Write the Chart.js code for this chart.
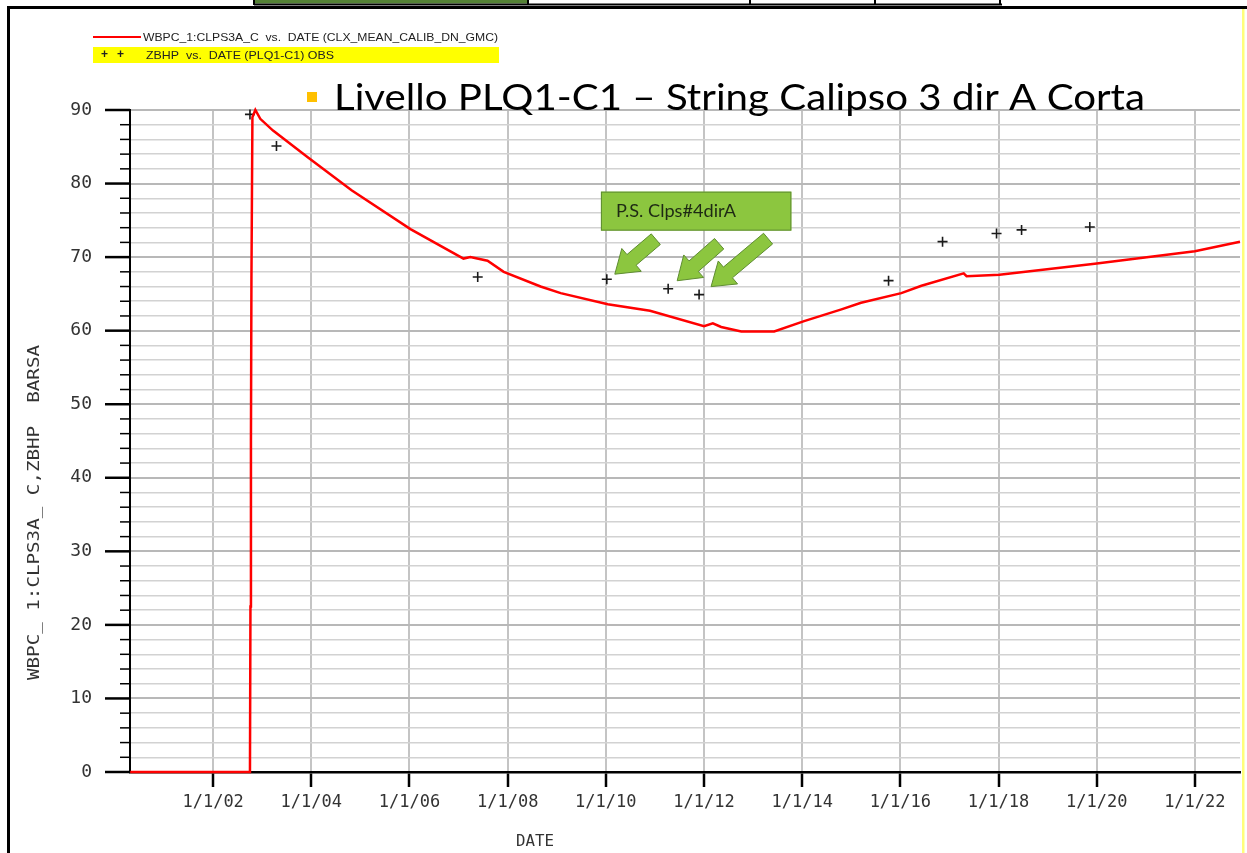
<!DOCTYPE html>
<html>
<head>
<meta charset="utf-8">
<title>Livello PLQ1-C1 – String Calipso 3 dir A Corta</title>
<script src="https://cdn.jsdelivr.net/npm/chart.js@4.4.1/dist/chart.umd.min.js"></script>
<style>
  html, body { margin: 0; padding: 0; background: #fff; }
  #wrap { width: 1247px; height: 853px; position: relative; }
</style>
</head>
<body>
<div id="wrap"><canvas id="chart" width="1247" height="853"></canvas></div>
<script>
// --- data (dates as decimal years) ---
const simYears = [2000.31, 2002.75, 2002.76, 2002.77, 2002.78, 2002.80, 2002.86, 2002.96, 2003.22,
  2003.92, 2004.82, 2006.02, 2007.10, 2007.24, 2007.59, 2007.92, 2008.67, 2009.08, 2010.04,
  2010.90, 2012.00, 2012.18, 2012.35, 2012.76, 2013.43, 2014.04, 2014.80, 2015.20, 2016.02,
  2016.43, 2017.29, 2017.35, 2018.02, 2019.96, 2022.00, 2022.92];
const simValues = [0, 0, 22.5, 45, 67, 89, 90.0, 88.8, 87.2,
  83.6, 79.1, 73.8, 69.8, 70.0, 69.5, 68.0, 66.0, 65.1, 63.6,
  62.7, 60.6, 61.0, 60.5, 59.9, 59.9, 61.3, 62.9, 63.8, 65.1,
  66.1, 67.8, 67.4, 67.6, 69.1, 70.8, 72.1];

const obsYears  = [2002.75, 2003.29, 2007.39, 2010.02, 2011.27, 2011.90, 2015.76, 2016.86, 2017.96, 2018.47, 2019.86];
const obsValues = [89.4, 85.1, 67.3, 67.0, 65.7, 64.9, 66.8, 72.1, 73.2, 73.7, 74.1];

const xTickYears = [2002, 2004, 2006, 2008, 2010, 2012, 2014, 2016, 2018, 2020, 2022];
const yMajorTicks = [0, 10, 20, 30, 40, 50, 60, 70, 80, 90];

const legendLabels = ['WBPC_1:CLPS3A_C  vs.  DATE (CLX_MEAN_CALIB_DN_GMC)', 'ZBHP  vs.  DATE (PLQ1-C1) OBS'];
const chartTitle = 'Livello PLQ1-C1 – String Calipso 3 dir A Corta';
const noteText = 'P.S. Clps#4dirA';
const yTitle = 'WBPC_ 1:CLPS3A_ C,ZBHP  BARSA';
const xTitle = 'DATE';

// arrows of the note point at these observations (index into obs arrays)
const noteArrows = [
  { idx: 3, tip: [8, -5],  tail: [49, -40] },
  { idx: 4, tip: [9, -8],  tail: [51, -45] },
  { idx: 5, tip: [12, -8], tail: [69, -56] }
];

const MONO = '"DejaVu Sans Mono", monospace';

function fitText(ctx, text, x, y, width) {
  const w = ctx.measureText(text).width;
  ctx.save();
  ctx.translate(x, y);
  ctx.scale(width / w, 1);
  ctx.fillText(text, 0, 0);
  ctx.restore();
}

function blockArrow(ctx, tail, tip, shaft, head, headLen) {
  const dx = tip[0] - tail[0], dy = tip[1] - tail[1];
  const len = Math.hypot(dx, dy);
  const ux = dx / len, uy = dy / len, nx = -uy, ny = ux;
  const bx = tip[0] - ux * headLen, by = tip[1] - uy * headLen;
  ctx.beginPath();
  ctx.moveTo(tail[0] + nx * shaft / 2, tail[1] + ny * shaft / 2);
  ctx.lineTo(bx + nx * shaft / 2, by + ny * shaft / 2);
  ctx.lineTo(bx + nx * head / 2, by + ny * head / 2);
  ctx.lineTo(tip[0], tip[1]);
  ctx.lineTo(bx - nx * head / 2, by - ny * head / 2);
  ctx.lineTo(bx - nx * shaft / 2, by - ny * shaft / 2);
  ctx.lineTo(tail[0] - nx * shaft / 2, tail[1] - ny * shaft / 2);
  ctx.closePath();
  ctx.fill();
  ctx.stroke();
}

// page frame, legend, title, note and the y tick marks
const decorPlugin = {
  id: 'decor',
  afterDraw(chart) {
    const ctx = chart.ctx;
    const xs = chart.scales.x, ys = chart.scales.y;
    const area = chart.chartArea;
    ctx.save();

    // y tick marks: long at 10s, short at 2s
    ctx.strokeStyle = '#000';
    ys.ticks.forEach(t => {
      const py = ys.getPixelForValue(t.value);
      const major = yMajorTicks.includes(t.value);
      ctx.lineWidth = major ? 2.5 : 1.5;
      ctx.beginPath();
      ctx.moveTo(area.left - (major ? 25 : 10), py);
      ctx.lineTo(area.left, py);
      ctx.stroke();
    });

    // frame around the slide picture
    ctx.fillStyle = '#000';
    ctx.fillRect(7, 6, 1240, 3);
    ctx.fillRect(7, 6, 3, 847);
    ctx.fillStyle = '#ffff7a';
    ctx.fillRect(1242, 9, 2.5, 844);
    // bit of a table above it
    ctx.fillStyle = '#548235';
    ctx.fillRect(254, 0, 274, 3.5);
    ctx.fillStyle = '#000';
    ctx.fillRect(254, 3.5, 748, 2);
    [254, 528, 750, 875, 1000].forEach(x => ctx.fillRect(x - 1, 0, 2, 5));

    // legend
    ctx.strokeStyle = '#ff0000';
    ctx.lineWidth = 2;
    ctx.beginPath(); ctx.moveTo(93, 37); ctx.lineTo(141, 37); ctx.stroke();
    ctx.fillStyle = '#ffff00';
    ctx.fillRect(93, 47, 406, 16);
    ctx.fillStyle = '#222';
    ctx.textBaseline = 'middle';
    ctx.textAlign = 'left';
    ctx.font = '11px "Liberation Sans", Arial, sans-serif';
    fitText(ctx, legendLabels[0], 143, 37.5, 355);
    fitText(ctx, legendLabels[1], 146, 55.5, 188);
    ctx.font = 'bold 12px "Liberation Sans", Arial, sans-serif';
    ctx.fillText('+', 101, 55);
    ctx.fillText('+', 117, 55);

    // title with bullet
    ctx.fillStyle = '#ffc000';
    ctx.fillRect(307, 92, 10, 10);
    ctx.fillStyle = '#000';
    ctx.textBaseline = 'alphabetic';
    ctx.font = '36px Lato, "Open Sans", sans-serif';
    fitText(ctx, chartTitle, 334, 110, 811);

    // note box + arrows
    const bx0 = xs.getPixelForValue(2009.9), bx1 = xs.getPixelForValue(2013.78);
    const by0 = ys.getPixelForValue(78.9), by1 = ys.getPixelForValue(73.6);
    ctx.fillStyle = '#8cc63f';
    ctx.strokeStyle = '#5e8c31';
    ctx.lineWidth = 1;
    ctx.fillRect(bx0, by0, bx1 - bx0, by1 - by0);
    ctx.strokeRect(bx0 + 0.5, by0 + 0.5, bx1 - bx0 - 1, by1 - by0 - 1);
    ctx.fillStyle = '#1e2a14';
    ctx.textBaseline = 'middle';
    ctx.font = '17px Lato, "Open Sans", sans-serif';
    fitText(ctx, noteText, bx0 + 15, (by0 + by1) / 2, 120);
    ctx.fillStyle = '#8cc63f';
    noteArrows.forEach(a => {
      const px = xs.getPixelForValue(obsYears[a.idx]);
      const py = ys.getPixelForValue(obsValues[a.idx]);
      blockArrow(ctx, [px + a.tail[0], py + a.tail[1]], [px + a.tip[0], py + a.tip[1]], 14, 30, 22);
    });

    // axis titles
    ctx.fillStyle = '#333';
    ctx.font = '15px ' + MONO;
    ctx.textAlign = 'left';
    ctx.save();
    ctx.translate(35, 680);
    ctx.rotate(-Math.PI / 2);
    fitText(ctx, yTitle, 0, 0, 335);
    ctx.restore();
    ctx.textAlign = 'left';
    fitText(ctx, xTitle, 516, 842, 38);

    ctx.restore();
  }
};

const simPoints = simYears.map((x, i) => ({ x: x, y: simValues[i] }));
const obsPoints = obsYears.map((x, i) => ({ x: x, y: obsValues[i] }));

new Chart(document.getElementById('chart'), {
  type: 'line',
  data: {
    datasets: [
      {
        label: legendLabels[0],
        data: simPoints,
        borderColor: '#ff0000',
        borderWidth: 2.5,
        pointRadius: 0,
        fill: false,
        tension: 0,
        clip: 4
      },
      {
        type: 'scatter',
        label: legendLabels[1],
        data: obsPoints,
        pointStyle: 'cross',
        pointRadius: 5,
        borderColor: '#1a1a1a',
        borderWidth: 1.6,
        clip: 8
      }
    ]
  },
  options: {
    responsive: false,
    animation: false,
    layout: { padding: { left: 0, top: 110, right: 7, bottom: 0 } },
    plugins: {
      legend: { display: false },
      tooltip: { enabled: false },
      title: { display: false }
    },
    scales: {
      x: {
        type: 'linear',
        min: 2000.306,
        max: 2022.92,
        afterBuildTicks: s => { s.ticks = xTickYears.map(v => ({ value: v })); },
        afterFit: s => { s.height = 81; },
        ticks: {
          autoSkip: false,
          maxRotation: 0,
          padding: 5,
          color: '#333',
          font: { family: MONO, size: 17 },
          callback: v => '1/1/' + String(v).slice(2)
        },
        grid: { color: '#c4c4c4', lineWidth: 2, tickLength: 15, tickColor: '#000', tickWidth: 2.5 },
        border: { color: '#000', width: 2.5 }
      },
      y: {
        type: 'linear',
        min: 0,
        max: 90,
        afterFit: s => { s.width = 130; },
        ticks: {
          stepSize: 2,
          maxTicksLimit: 100,
          autoSkip: false,
          padding: 38,
          color: '#333',
          font: { family: MONO, size: 18 },
          callback: v => (v % 10 === 0 ? v : '')
        },
        grid: {
          drawTicks: false,
          color: c => (c.tick && c.tick.value % 10 === 0 ? '#b8b8b8' : '#d2d2d2'),
          lineWidth: c => (c.tick && c.tick.value % 10 === 0 ? 2 : 1.5)
        },
        border: { color: '#000', width: 2 }
      }
    }
  },
  plugins: [decorPlugin]
});
</script>
</body>
</html>
